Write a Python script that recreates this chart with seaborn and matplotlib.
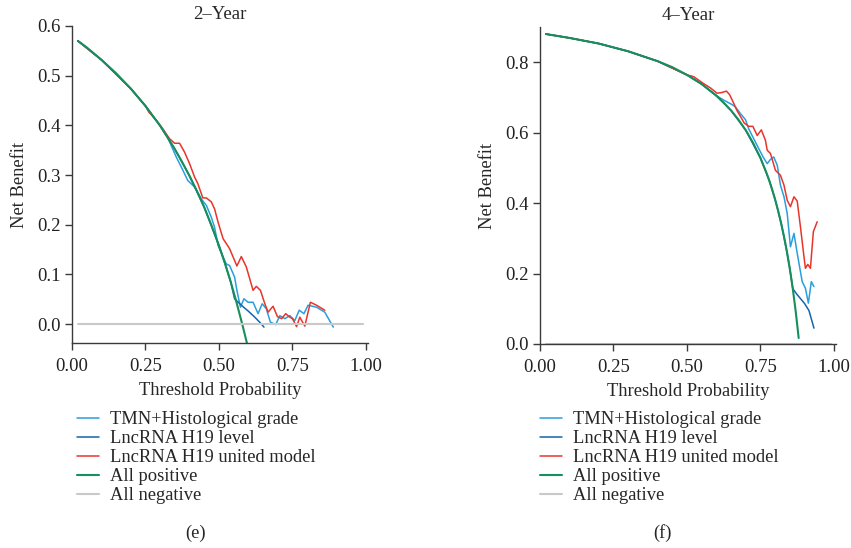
import matplotlib
matplotlib.use("Agg")
import matplotlib.pyplot as plt
import seaborn as sns
import pandas as pd

# ---------------- data ----------------
labels = ["TMN+Histological grade", "LncRNA H19 level", "LncRNA H19 united model",
          "All positive", "All negative"]
colors = ["#2a9ede", "#1266ab", "#e8352b", "#178f5c", "#c9c9c9"]

# 2-Year panel
y2_all_t = [0.02, 0.05, 0.10, 0.15, 0.20, 0.25, 0.275, 0.30, 0.325, 0.35, 0.375, 0.40,
            0.425, 0.45, 0.475, 0.50, 0.52, 0.54, 0.56, 0.58, 0.595]
y2_all_nb = [0.570, 0.557, 0.532, 0.505, 0.474, 0.439, 0.419, 0.399, 0.376, 0.352, 0.326,
             0.298, 0.268, 0.235, 0.198, 0.158, 0.123, 0.085, 0.043, -0.002, -0.038]
y2_neg_t = [0.02, 0.99]
y2_neg_nb = [0.0, 0.0]
y2_tmn_t = [0.02, 0.10, 0.20, 0.25, 0.30, 0.325, 0.355, 0.372, 0.394, 0.417, 0.44, 0.457,
            0.474, 0.485, 0.497, 0.514, 0.525, 0.536, 0.553, 0.561, 0.573, 0.585, 0.599,
            0.616, 0.633, 0.647, 0.661, 0.675, 0.693, 0.707, 0.724, 0.741, 0.758, 0.773,
            0.789, 0.803, 0.832, 0.86, 0.889]
y2_tmn_nb = [0.570, 0.532, 0.474, 0.439, 0.399, 0.376, 0.336, 0.316, 0.289, 0.276, 0.252,
             0.239, 0.215, 0.195, 0.158, 0.135, 0.121, 0.118, 0.095, 0.068, 0.034, 0.051,
             0.044, 0.044, 0.021, 0.041, 0.031, 0.004, -0.001, 0.017, 0.011, 0.017, 0.007,
             0.028, 0.021, 0.038, 0.034, 0.024, -0.006]
y2_lnc_t = [0.02, 0.10, 0.20, 0.25, 0.30, 0.35, 0.40, 0.45, 0.50, 0.52, 0.54, 0.553,
            0.58, 0.60, 0.62, 0.64, 0.653]
y2_lnc_nb = [0.570, 0.532, 0.474, 0.439, 0.399, 0.352, 0.298, 0.235, 0.158, 0.123, 0.085,
             0.051, 0.036, 0.026, 0.015, 0.003, -0.006]
y2_uni_t = [0.02, 0.10, 0.20, 0.25, 0.261, 0.286, 0.309, 0.332, 0.349, 0.366, 0.383, 0.40,
            0.417, 0.428, 0.445, 0.457, 0.474, 0.485, 0.497, 0.514, 0.536, 0.561, 0.576,
            0.593, 0.616, 0.627, 0.641, 0.656, 0.667, 0.684, 0.699, 0.713, 0.727, 0.741,
            0.75, 0.764, 0.775, 0.792, 0.811, 0.832, 0.86]
y2_uni_nb = [0.570, 0.532, 0.474, 0.439, 0.427, 0.411, 0.393, 0.373, 0.364, 0.364, 0.346,
             0.323, 0.296, 0.283, 0.254, 0.254, 0.246, 0.232, 0.205, 0.172, 0.152, 0.117,
             0.136, 0.115, 0.068, 0.076, 0.068, 0.041, 0.024, 0.036, 0.015, 0.011, 0.021,
             0.014, 0.011, -0.005, 0.014, -0.004, 0.044, 0.038, 0.028]

# 4-Year panel
y4_all_t = [0.02, 0.10, 0.20, 0.30, 0.40, 0.45, 0.50, 0.55, 0.60, 0.625, 0.65, 0.675,
            0.70, 0.725, 0.75, 0.77, 0.78, 0.79, 0.80, 0.81, 0.82, 0.83, 0.84, 0.85,
            0.86, 0.87, 0.88]
y4_all_nb = [0.880, 0.869, 0.853, 0.831, 0.803, 0.786, 0.764, 0.738, 0.705, 0.685, 0.663,
             0.637, 0.607, 0.571, 0.528, 0.487, 0.464, 0.438, 0.410, 0.379, 0.344, 0.306,
             0.262, 0.213, 0.157, 0.092, 0.017]
y4_neg_t = [0.02, 0.99]
y4_neg_nb = [0.0, 0.0]
y4_tmn_t = [0.02, 0.10, 0.20, 0.30, 0.40, 0.50, 0.55, 0.60, 0.63, 0.653, 0.665, 0.682,
            0.699, 0.71, 0.727, 0.744, 0.759, 0.773, 0.784, 0.795, 0.807, 0.818, 0.83,
            0.841, 0.852, 0.864, 0.875, 0.892, 0.903, 0.913, 0.923, 0.932]
y4_tmn_nb = [0.880, 0.869, 0.853, 0.831, 0.803, 0.764, 0.738, 0.705, 0.690, 0.680, 0.673,
             0.654, 0.637, 0.611, 0.583, 0.555, 0.531, 0.512, 0.524, 0.531, 0.508, 0.451,
             0.418, 0.371, 0.276, 0.314, 0.258, 0.177, 0.158, 0.116, 0.177, 0.163]
y4_lnc_t = [0.02, 0.10, 0.20, 0.30, 0.40, 0.50, 0.55, 0.60, 0.65, 0.70, 0.75, 0.78, 0.80,
            0.82, 0.84, 0.85, 0.86, 0.875, 0.89, 0.90, 0.915, 0.932]
y4_lnc_nb = [0.880, 0.869, 0.853, 0.831, 0.803, 0.764, 0.738, 0.705, 0.663, 0.607, 0.528,
             0.464, 0.410, 0.344, 0.262, 0.213, 0.157, 0.140, 0.125, 0.115, 0.095, 0.045]
y4_uni_t = [0.02, 0.10, 0.20, 0.30, 0.40, 0.50, 0.523, 0.557, 0.58, 0.602, 0.619, 0.634,
            0.645, 0.657, 0.67, 0.682, 0.695, 0.71, 0.724, 0.739, 0.753, 0.767, 0.773,
            0.784, 0.801, 0.818, 0.83, 0.841, 0.852, 0.864, 0.875, 0.886, 0.898, 0.903,
            0.911, 0.92, 0.93, 0.943]
y4_uni_nb = [0.880, 0.869, 0.853, 0.831, 0.803, 0.764, 0.759, 0.739, 0.727, 0.712, 0.714,
             0.718, 0.708, 0.687, 0.663, 0.646, 0.627, 0.618, 0.618, 0.592, 0.608, 0.578,
             0.550, 0.541, 0.493, 0.479, 0.451, 0.408, 0.390, 0.418, 0.406, 0.333, 0.248,
             0.215, 0.226, 0.215, 0.319, 0.347]

xticks = [0.0, 0.25, 0.5, 0.75, 1.0]
xtick_labels = ["0.00", "0.25", "0.50", "0.75", "1.00"]

# ---------------- style ----------------
sns.set_theme(style="ticks")
plt.rcParams["font.family"] = ["Liberation Serif", "DejaVu Serif"]
plt.rcParams["axes.edgecolor"] = "#3a3a3a"
plt.rcParams["xtick.color"] = "#3a3a3a"
plt.rcParams["ytick.color"] = "#3a3a3a"
plt.rcParams["xtick.labelcolor"] = "#222222"
plt.rcParams["ytick.labelcolor"] = "#222222"

fig = plt.figure(figsize=(8.51, 5.48), dpi=100)
W, H = 851, 548
ax1 = fig.add_axes([72 / W, 1 - 343 / H, 296 / W, 317 / H])
ax2 = fig.add_axes([540 / W, 1 - 344 / H, 296 / W, 317 / H])


def draw(ax, series, title, ylim, yticks, ytick_labels):
    for (t, nb), lab, col in zip(series, labels, colors):
        df = pd.DataFrame({"t": t, "nb": nb})
        lw = 1.5 if lab in ("All positive", "All negative") else 1.1
        sns.lineplot(data=df, x="t", y="nb", ax=ax, color=col, label=lab,
                     linewidth=lw, estimator=None, sort=False, legend=False)
    ax.set_xlim(0, 1.007)
    ax.set_ylim(*ylim)
    ax.set_xticks(xticks)
    ax.set_xticklabels(xtick_labels)
    ax.set_yticks(yticks)
    ax.set_yticklabels(ytick_labels)
    ax.tick_params(labelsize=13.5, length=5, width=1, direction="out")
    ax.tick_params(axis="x", pad=6)
    ax.tick_params(axis="y", pad=3)
    for s in ("top", "right"):
        ax.spines[s].set_visible(False)
    for s in ("left", "bottom"):
        ax.spines[s].set_linewidth(1.0)
    ax.set_title(title, fontsize=13.5, pad=5)
    ax.set_xlabel("Threshold Probability", fontsize=13.3, labelpad=5)
    ax.set_ylabel("Net Benefit", fontsize=13.3, labelpad=7)


s2 = [(y2_tmn_t, y2_tmn_nb), (y2_lnc_t, y2_lnc_nb), (y2_uni_t, y2_uni_nb),
      (y2_all_t, y2_all_nb), (y2_neg_t, y2_neg_nb)]
s4 = [(y4_tmn_t, y4_tmn_nb), (y4_lnc_t, y4_lnc_nb), (y4_uni_t, y4_uni_nb),
      (y4_all_t, y4_all_nb), (y4_neg_t, y4_neg_nb)]

draw(ax1, s2, "2\u2013Year", (-0.038, 0.6), [0, 0.1, 0.2, 0.3, 0.4, 0.5, 0.6],
     ["0.0", "0.1", "0.2", "0.3", "0.4", "0.5", "0.6"])
draw(ax2, s4, "4\u2013Year", (0, 0.9), [0, 0.2, 0.4, 0.6, 0.8],
     ["0.0", "0.2", "0.4", "0.6", "0.8"])

for ax, x0 in ((ax1, 77), (ax2, 540)):
    handles, labs = ax.get_legend_handles_labels()
    fig.legend(handles, labs, loc="upper left",
               bbox_to_anchor=(x0 / W, 1 - 411 / H), frameon=False,
               fontsize=13.3, handlelength=1.2, handletextpad=0.6,
               labelspacing=0.11, borderpad=0, borderaxespad=0)

fig.text(196 / W, 1 - 533 / H, "(e)", ha="center", va="center", fontsize=13.3)
fig.text(663 / W, 1 - 533 / H, "(f)", ha="center", va="center", fontsize=13.3)

fig.savefig("out.png", dpi=100)
